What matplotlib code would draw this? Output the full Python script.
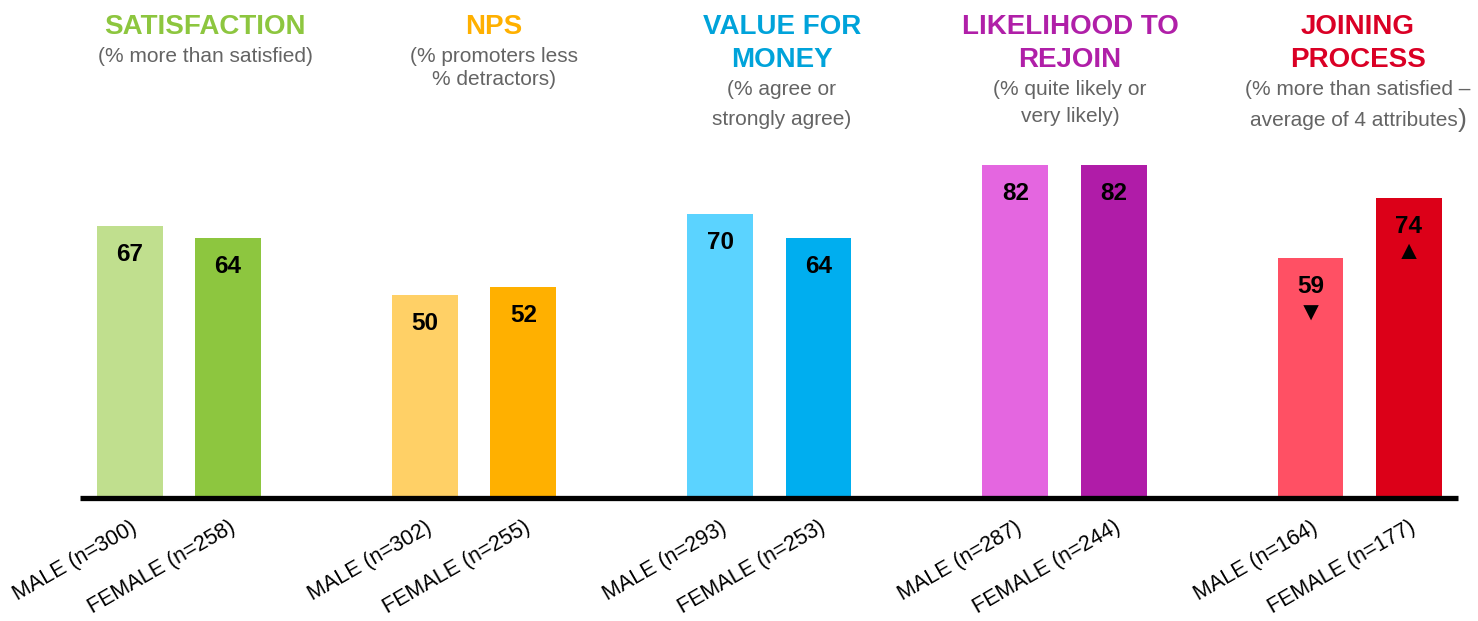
"""
member survey results by gender
"""

import matplotlib.pyplot as plt

plt.rcParams['font.family'] = ['Liberation Sans', 'DejaVu Sans']

# Survey measures and their explanatory notes
measures = ['SATISFACTION', 'NPS', 'VALUE FOR\nMONEY', 'LIKELIHOOD TO\nREJOIN', 'JOINING\nPROCESS']
notes = [
    ['(% more than satisfied)'],
    ['(% promoters less', '% detractors)'],
    ['(% agree or', 'strongly agree)'],
    ['(% quite likely or', 'very likely)'],
    ['(% more than satisfied –', 'average of 4 attributes'],
]

male_n = [300, 302, 293, 287, 164]
female_n = [258, 255, 253, 244, 177]
male_values = [67, 50, 70, 82, 59]
female_values = [64, 52, 64, 82, 74]

# significance arrows shown under the value
male_sig = ['', '', '', '', '▼']
female_sig = ['', '', '', '', '▲']

title_colors = ['#8DC63F', '#FFB000', '#00A3DA', '#B01FA8', '#DA0025']
male_colors = ['#C0DF8E', '#FFD066', '#5BD3FF', '#E466E0', '#FF5064']
female_colors = ['#8DC63F', '#FFB000', '#00AEEF', '#B01CA8', '#DC0018']

# layout in pixels (figure is 1478 x 621)
W, H = 1478, 621
title_x = [205, 494, 782, 1070, 1358]
note_tops = [[47], [47, 70], [80, 110], [80, 107], [80, 110]]

fig = plt.figure(figsize=(W / 100, H / 100), dpi=100)
ax = fig.add_axes([80 / W, 123.5 / H, (1458 - 80) / W, 405.3 / H])

male_x = [3 * i for i in range(len(measures))]
female_x = [3 * i + 1 for i in range(len(measures))]

ax.bar(male_x, male_values, width=0.67, color=male_colors)
ax.bar(female_x, female_values, width=0.67, color=female_colors)
ax.axhline(0, color='black', lw=3.8, zorder=3, clip_on=False, solid_capstyle='butt')

for xs, vals, sigs in [(male_x, male_values, male_sig), (female_x, female_values, female_sig)]:
    for x, v, s in zip(xs, vals, sigs):
        ax.annotate(str(v), (x, v), xytext=(0, -12.2), textcoords='offset points',
                    ha='center', va='top', fontsize=17.5, fontweight='bold')
        if s:
            ax.annotate(s, (x, v), xytext=(0, -39.5), textcoords='offset points',
                        ha='center', va='center', fontsize=19, color='black')

ticks = []
labels = []
for m, f, mn, fn in zip(male_x, female_x, male_n, female_n):
    ticks += [m, f]
    labels += [f'MALE (n={mn})', f'FEMALE (n={fn})']
ax.set_xticks(ticks)
ax.set_xticklabels(labels, rotation=30, ha='right', va='top',
                   rotation_mode='anchor', fontsize=15.5)
ax.tick_params(axis='x', length=0, pad=14)
ax.set_yticks([])

ax.set_xlim((80 - 129.7) / 98.4, (1458 - 129.7) / 98.4)
ax.set_ylim(0, 100)
for sp in ax.spines.values():
    sp.set_visible(False)

# headings above each pair of bars
renderer = fig.canvas.get_renderer()
for i, name in enumerate(measures):
    cx = title_x[i] / W
    for j, line in enumerate(name.split('\n')):
        fig.text(cx, 1 - (14 + 33 * j) / H, line, ha='center', va='top',
                 fontsize=20, fontweight='bold', color=title_colors[i])
    for line, top in zip(notes[i], note_tops[i]):
        t = fig.text(cx, 1 - top / H, line, ha='center', va='top',
                     fontsize=15, color='#646464')
    if i == len(measures) - 1:
        # closing bracket drawn a little larger
        t.set_ha('left')
        p = fig.text(0, 0, ')', fontsize=19, color='#646464', va='baseline')
        tw = t.get_window_extent(renderer).width
        pw = p.get_window_extent(renderer).width
        start = title_x[i] - (tw + pw) / 2
        t.set_x(start / W)
        t.set_va('baseline')
        base = 1 - (note_tops[i][-1] + 15.5) / H
        t.set_y(base)
        p.set_position(((start + tw) / W, base - 2 / H))

fig.savefig('out.png', dpi=100)
